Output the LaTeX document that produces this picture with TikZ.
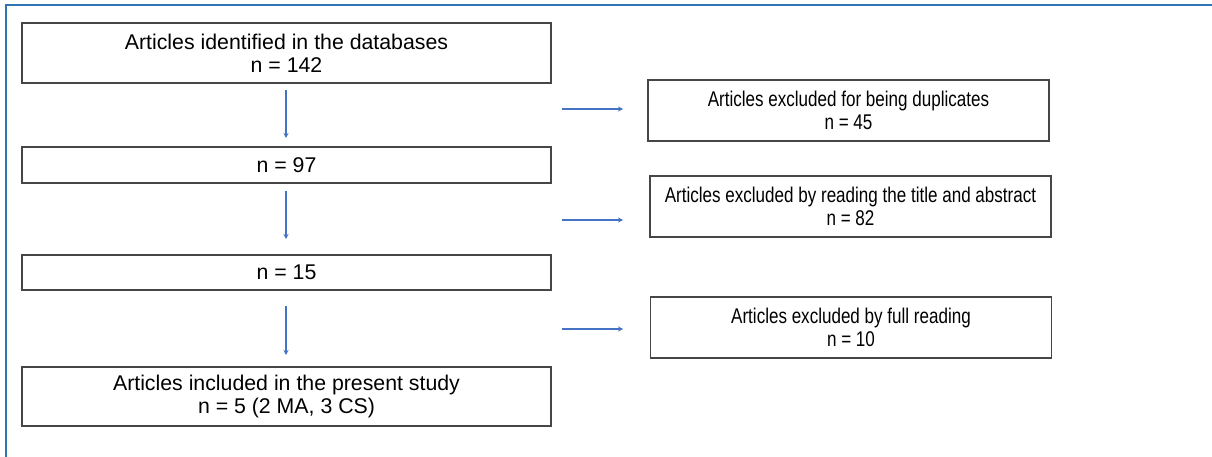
\documentclass[tikz,border=0pt]{standalone}
\usepackage{fontspec}
\setmainfont{Liberation Sans}
\newfontfamily\narrowfont[FakeStretch=0.8]{Liberation Sans}
\usetikzlibrary{arrows.meta}
\definecolor{framebl}{RGB}{46,117,182}
\definecolor{arrbl}{RGB}{68,114,196}
\definecolor{boxln}{RGB}{70,70,70}
\tikzset{
  leftbox/.style={draw=boxln, line width=1.4pt, minimum width=529pt, align=center, inner sep=0pt,
    font=\fontsize{21.3}{23}\selectfont},
  rightbox/.style={draw=boxln, line width=1.4pt, minimum width=401pt, minimum height=61pt, align=center, inner sep=0pt,
    font=\narrowfont\fontsize{21.3}{23}\selectfont},
  flow/.style={draw=arrbl, line width=1.9pt, -{Stealth[length=5pt,width=5pt]}},
}
\begin{document}
\begin{tikzpicture}[x=1pt,y=-1pt]
\useasboundingbox (0,0) rectangle (1212,457);
\draw[framebl, line width=2pt] (6,457) -- (6,5) -- (1212,5);
% left column
\node[leftbox, minimum height=60pt] (b1) at (286.5,53) {Articles identified in the databases\\n = 142};
\node[leftbox, minimum height=36pt] (b2) at (286.5,165) {n = 97};
\node[leftbox, minimum height=35pt] (b3) at (286.5,272.5) {n = 15};
\node[leftbox, minimum height=59pt] (b4) at (286.5,396.5) {Articles included in the present study\\n = 5 (2 MA, 3 CS)};
% right column
\node[rightbox] (r1) at (848.5,110.5) {Articles excluded for being duplicates\\n = 45};
\node[rightbox] (r2) at (850.5,206.5) {Articles excluded by reading the title and abstract\\n = 82};
\node[rightbox] (r3) at (851,327.5) {Articles excluded by full reading\\n = 10};
% vertical arrows
\coordinate (v1s) at (286,90);  \coordinate (v1e) at (286,138);
\coordinate (v2s) at (286,191); \coordinate (v2e) at (286,239);
\coordinate (v3s) at (286,306); \coordinate (v3e) at (286,355);
\draw[flow] (v1s) -- (v1e);
\draw[flow] (v2s) -- (v2e);
\draw[flow] (v3s) -- (v3e);
% horizontal arrows
\coordinate (h1s) at (562,109); \coordinate (h1e) at (623,109);
\coordinate (h2s) at (562,220); \coordinate (h2e) at (623,220);
\coordinate (h3s) at (562,329); \coordinate (h3e) at (623,329);
\draw[flow] (h1s) -- (h1e);
\draw[flow] (h2s) -- (h2e);
\draw[flow] (h3s) -- (h3e);
\end{tikzpicture}
\end{document}
